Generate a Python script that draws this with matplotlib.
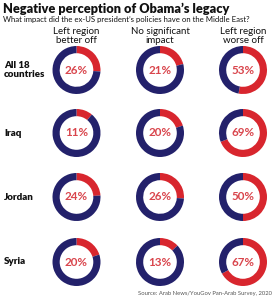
import matplotlib
matplotlib.use("Agg")
import matplotlib.pyplot as plt

better = [26, 11, 24, 20]
none_ = [21, 20, 26, 13]
worse = [53, 69, 50, 67]
rows = ["All 18\ncountries", "Iraq", "Jordan", "Syria"]
cols = ["Left region\nbetter off", "No significant\nimpact", "Left region\nworse off"]

NAVY = "#23216b"
RED = "#d8262e"
FONT = ["Lato", "DejaVu Sans"]

W, H = 276, 300
fig = plt.figure(figsize=(W / 100, H / 100), dpi=100)
fig.patch.set_facecolor("white")

def fx(px):
    return px / W

def fy(py):
    return 1 - py / H

fig.text(fx(3), fy(3), "Negative perception of Obama\u2019s legacy", ha="left", va="top",
         fontsize=9.2, fontweight="heavy", family=FONT, color="#111111")
fig.text(fx(3), fy(16), "What impact did the ex-US president\u2019s policies have on the Middle East?",
         ha="left", va="top", fontsize=5.6, family=FONT, color="#111111")

col_x = [76.5, 160, 243]
row_y = [70, 133, 197, 262]
R = 24

for cx, lab in zip(col_x, cols):
    fig.text(fx(cx), fy(27), lab, ha="center", va="top", fontsize=7, family=FONT,
             color="#111111", linespacing=0.95)

data = [better, none_, worse]
for r, (cy, rlab) in enumerate(zip(row_y, rows)):
    fig.text(fx(4), fy(cy), rlab, ha="left", va="center", fontsize=7, fontweight="heavy",
             family=FONT, color="#111111", linespacing=1.0)
    for c, cx in enumerate(col_x):
        v = data[c][r]
        ax = fig.add_axes([fx(cx - R), fy(cy + R), 2 * R / W, 2 * R / H])
        ax.pie([v, 100 - v], colors=[RED, NAVY], startangle=90, counterclock=False,
               radius=1.0, wedgeprops=dict(width=0.3, linewidth=0))
        ax.set_xlim(-1, 1)
        ax.set_ylim(-1, 1)
        ax.set_aspect("auto")
        ax.axis("off")
        ax.text(0, 0, f"{v}%", ha="center", va="center", fontsize=8.4, fontweight="bold",
                family=FONT, color="#d9454c")

fig.text(fx(272), fy(296), "Source: Arab News/YouGov Pan-Arab Survey, 2020", ha="right",
         va="bottom", fontsize=4.2, family=FONT, color="#555555")

fig.savefig("out.png", dpi=100, facecolor="white")
